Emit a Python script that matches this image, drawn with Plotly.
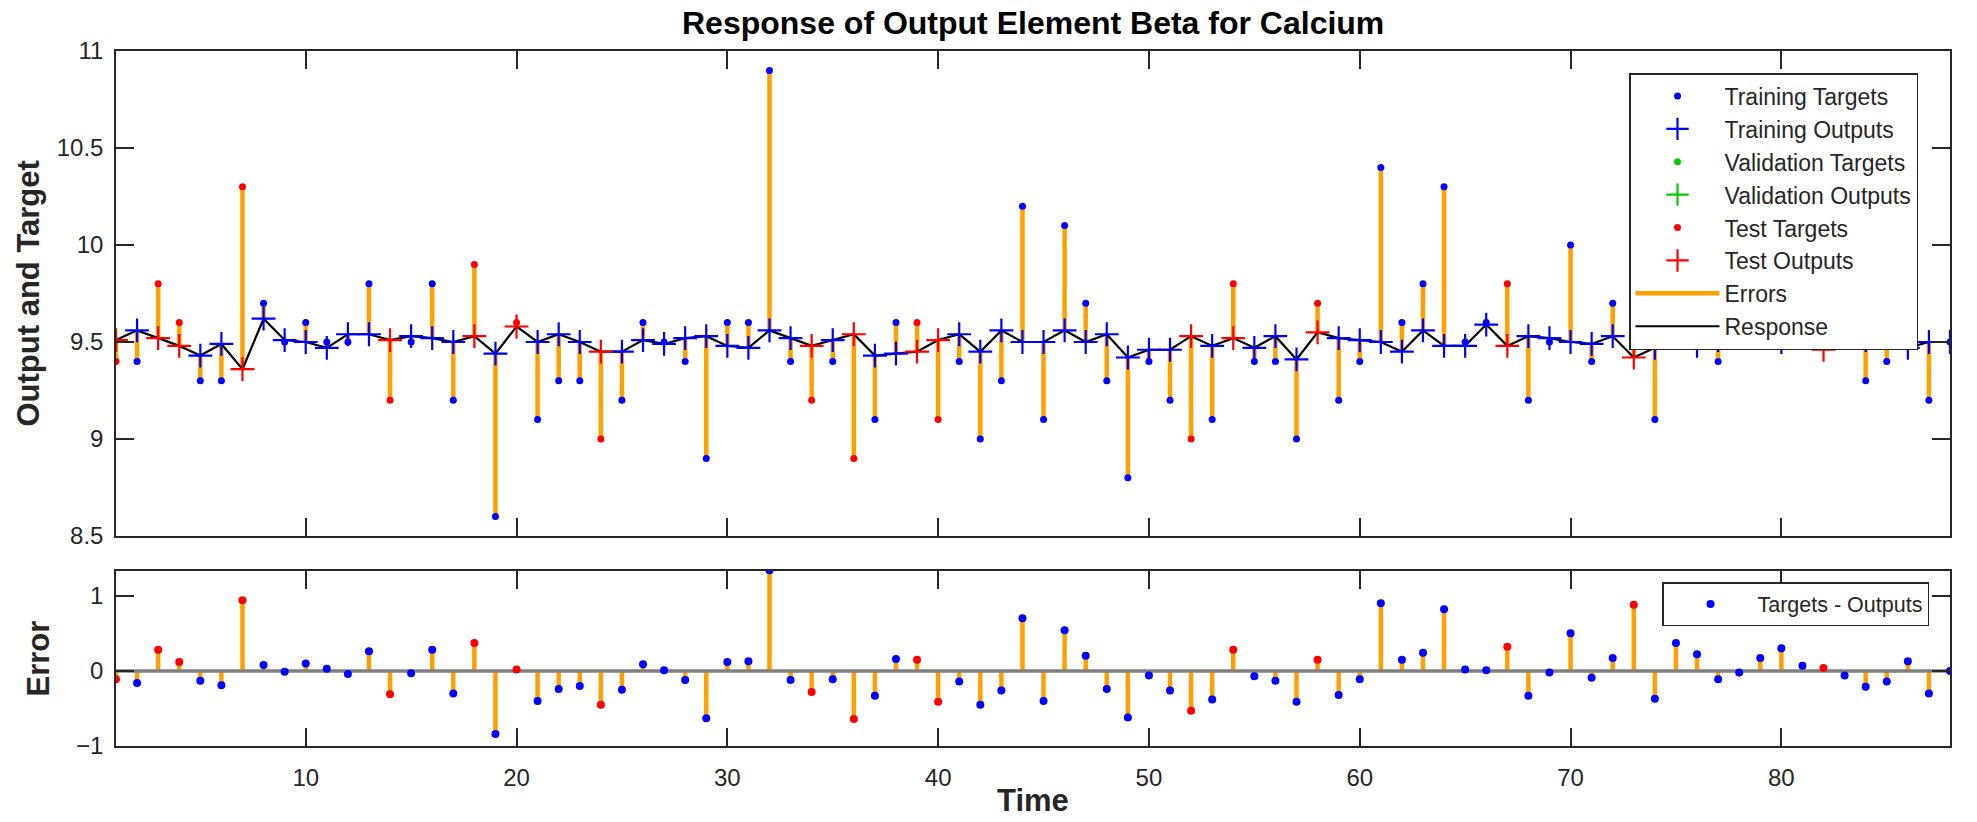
import plotly.graph_objects as go

# ---- data -------------------------------------------------------------
time = list(range(1, 89))

targets = [
    9.4, 9.4, 9.8, 9.6, 9.3, 9.3, 10.3, 9.7, 9.5, 9.6,
    9.5, 9.5, 9.8, 9.2, 9.5, 9.8, 9.2, 9.9, 8.6, 9.6,
    9.1, 9.3, 9.3, 9.0, 9.2, 9.6, 9.5, 9.4, 8.9, 9.6,
    9.6, 10.9, 9.4, 9.2, 9.4, 8.9, 9.1, 9.6, 9.6, 9.1,
    9.4, 9.0, 9.3, 10.2, 9.1, 10.1, 9.7, 9.3, 8.8, 9.4,
    9.2, 9.0, 9.1, 9.8, 9.4, 9.4, 9.0, 9.7, 9.2, 9.4,
    10.4, 9.6, 9.8, 10.3, 9.5, 9.6, 9.8, 9.2, 9.5, 10.0,
    9.4, 9.7, 10.3, 9.1, 9.9, 9.7, 9.4, 9.5, 9.7, 9.8,
    9.6, 9.5, 9.5, 9.3, 9.4, 9.6, 9.2, 9.5,
]

outputs = [
    9.51, 9.56, 9.52, 9.48, 9.43, 9.49, 9.36, 9.62, 9.51, 9.50,
    9.47, 9.54, 9.54, 9.51, 9.53, 9.52, 9.50, 9.53, 9.44, 9.58,
    9.50, 9.54, 9.50, 9.45, 9.45, 9.51, 9.49, 9.52, 9.53, 9.48,
    9.47, 9.56, 9.52, 9.48, 9.51, 9.54, 9.43, 9.44, 9.45, 9.51,
    9.54, 9.45, 9.56, 9.50, 9.50, 9.56, 9.50, 9.54, 9.42, 9.46,
    9.46, 9.53, 9.48, 9.52, 9.47, 9.53, 9.41, 9.55, 9.52, 9.51,
    9.50, 9.45, 9.56, 9.48, 9.48, 9.59, 9.48, 9.53, 9.52, 9.50,
    9.49, 9.53, 9.42, 9.47, 9.53, 9.48, 9.51, 9.52, 9.53, 9.50,
    9.53, 9.46, 9.56, 9.51, 9.54, 9.47, 9.50, 9.50,
]

# sample indices (time steps) assigned to each data division
test_steps = [1, 3, 4, 7, 14, 18, 20, 24, 34, 36, 39, 40, 52, 54, 58, 67, 73, 82]
validation_steps = []

y_ticks_top = [8.5, 9, 9.5, 10, 10.5, 11]
y_ticks_err = [-1, 0, 1]
x_ticks = [10, 20, 30, 40, 50, 60, 70, 80]

# ---- derived series ---------------------------------------------------
errors = [t - o for t, o in zip(targets, outputs)]


def subset(steps, values):
    lookup = dict(zip(time, values))
    return [lookup[s] for s in steps]


train_steps = [s for s in time if s not in test_steps and s not in validation_steps]


def segments(xs, y_from, y_to):
    xx, yy = [], []
    for x, a, b in zip(xs, y_from, y_to):
        xx += [x, x, None]
        yy += [a, b, None]
    return xx, yy


# ---- styling ----------------------------------------------------------
FONT = "Liberation Sans, Arial, Helvetica, sans-serif"
AX = "#262626"
BLUE = "#0000ff"
RED = "#ff0000"
GREEN = "#00cc00"
ORANGE = "#ffa000"
W, H = 1977, 822

# plot-area geometry (pixels)
L, R = 116, 1950
TOP_T, TOP_B = 51, 536
BOT_T, BOT_B = 571, 746

fig = go.Figure()

# error segments between targets and outputs
ex, ey = segments(time, outputs, targets)
fig.add_trace(go.Scatter(
    x=ex, y=ey, mode="lines", name="Errors",
    line=dict(color=ORANGE, width=4.5), legendrank=7,
    xaxis="x", yaxis="y", hoverinfo="skip"))

# network response
fig.add_trace(go.Scatter(
    x=time, y=outputs, mode="lines", name="Response",
    line=dict(color="black", width=2.2), legendrank=8,
    xaxis="x", yaxis="y"))

groups = [
    ("Training", train_steps, BLUE, 1),
    ("Validation", validation_steps, GREEN, 3),
    ("Test", test_steps, RED, 5),
]
for label, steps, color, rank in groups:
    tx = steps if steps else [None]
    fig.add_trace(go.Scatter(
        x=tx, y=subset(steps, targets) if steps else [None],
        mode="markers", name=f"{label} Targets", legendrank=rank,
        marker=dict(symbol="circle", size=7, color=color),
        xaxis="x", yaxis="y"))
for label, steps, color, rank in groups:
    tx = steps if steps else [None]
    fig.add_trace(go.Scatter(
        x=tx, y=subset(steps, outputs) if steps else [None],
        mode="markers", name=f"{label} Outputs", legendrank=rank + 1,
        marker=dict(symbol="cross-thin", size=17, color=color,
                    line=dict(color=color, width=2.2)),
        xaxis="x", yaxis="y"))

# ---- error panel ------------------------------------------------------
sx, sy = segments(time, [0] * len(time), errors)
fig.add_trace(go.Scatter(
    x=sx, y=sy, mode="lines", line=dict(color=ORANGE, width=4.5),
    showlegend=False, xaxis="x2", yaxis="y2", hoverinfo="skip"))
fig.add_trace(go.Scatter(
    x=[time[0], time[-1]], y=[0, 0], mode="lines",
    line=dict(color="#808080", width=3.5),
    showlegend=False, xaxis="x2", yaxis="y2", hoverinfo="skip"))
fig.add_trace(go.Scatter(
    x=test_steps, y=subset(test_steps, errors), mode="markers",
    marker=dict(size=8, color=RED), showlegend=False,
    xaxis="x2", yaxis="y2"))
fig.add_trace(go.Scatter(
    x=train_steps, y=subset(train_steps, errors), mode="markers",
    name="Targets - Outputs", marker=dict(size=8, color=BLUE),
    legend="legend2", xaxis="x2", yaxis="y2"))

axis_common = dict(
    showline=True, linecolor=AX, linewidth=1.5, mirror="ticks",
    ticks="inside", ticklen=18, tickwidth=1.5, tickcolor=AX,
    showgrid=False, zeroline=False, automargin=False,
    tickfont=dict(family=FONT, size=24, color=AX),
)


def label(text, x, y, size, angle=0, color=AX):
    return dict(text=f"<b>{text}</b>", textangle=angle, x=x, y=y,
                xref="paper", yref="paper", xanchor="center", yanchor="middle",
                showarrow=False, font=dict(family=FONT, size=size, color=color))


fig.update_layout(
    width=W, height=H,
    margin=dict(l=0, r=0, t=0, b=0),
    paper_bgcolor="white", plot_bgcolor="white",
    font=dict(family=FONT, color=AX),
    xaxis=dict(domain=[L / W, R / W], range=[1, 88], tickvals=x_ticks,
               showticklabels=False, anchor="y", **axis_common),
    yaxis=dict(domain=[1 - TOP_B / H, 1 - TOP_T / H], range=[8.5, 11],
               tickvals=y_ticks_top, ticktext=[f"{v:g}" for v in y_ticks_top],
               ticklabelstandoff=6, anchor="x", **axis_common),
    xaxis2=dict(domain=[L / W, R / W], range=[1, 88], tickvals=x_ticks,
                ticklabelstandoff=9, anchor="y2", **axis_common),
    yaxis2=dict(domain=[1 - BOT_B / H, 1 - BOT_T / H], range=[-1, 1.33],
                tickvals=y_ticks_err, ticklabelstandoff=6, anchor="x2",
                **axis_common),
    legend=dict(
        x=1629 / W, y=1 - 73 / H, xanchor="left", yanchor="top",
        bgcolor="white", bordercolor=AX, borderwidth=1.5,
        font=dict(family=FONT, size=23, color=AX), itemwidth=84,
        tracegroupgap=0),
    legend2=dict(
        x=1662 / W, y=1 - 582 / H, xanchor="left", yanchor="top",
        bgcolor="white", bordercolor=AX, borderwidth=1.5,
        font=dict(family=FONT, size=21.5, color=AX), itemwidth=84),
    annotations=[
        label("Response of Output Element Beta for Calcium",
              (L + R) / 2 / W, 1 - 23 / H, 32, color="black"),
        label("Output and Target", 28 / W, 1 - (TOP_T + TOP_B) / 2 / H, 31, angle=-90),
        label("Error", 38 / W, 1 - (BOT_T + BOT_B) / 2 / H, 31, angle=-90),
        label("Time", (L + R) / 2 / W, 1 - 800 / H, 31),
    ],
)

fig.write_html("out.html")
